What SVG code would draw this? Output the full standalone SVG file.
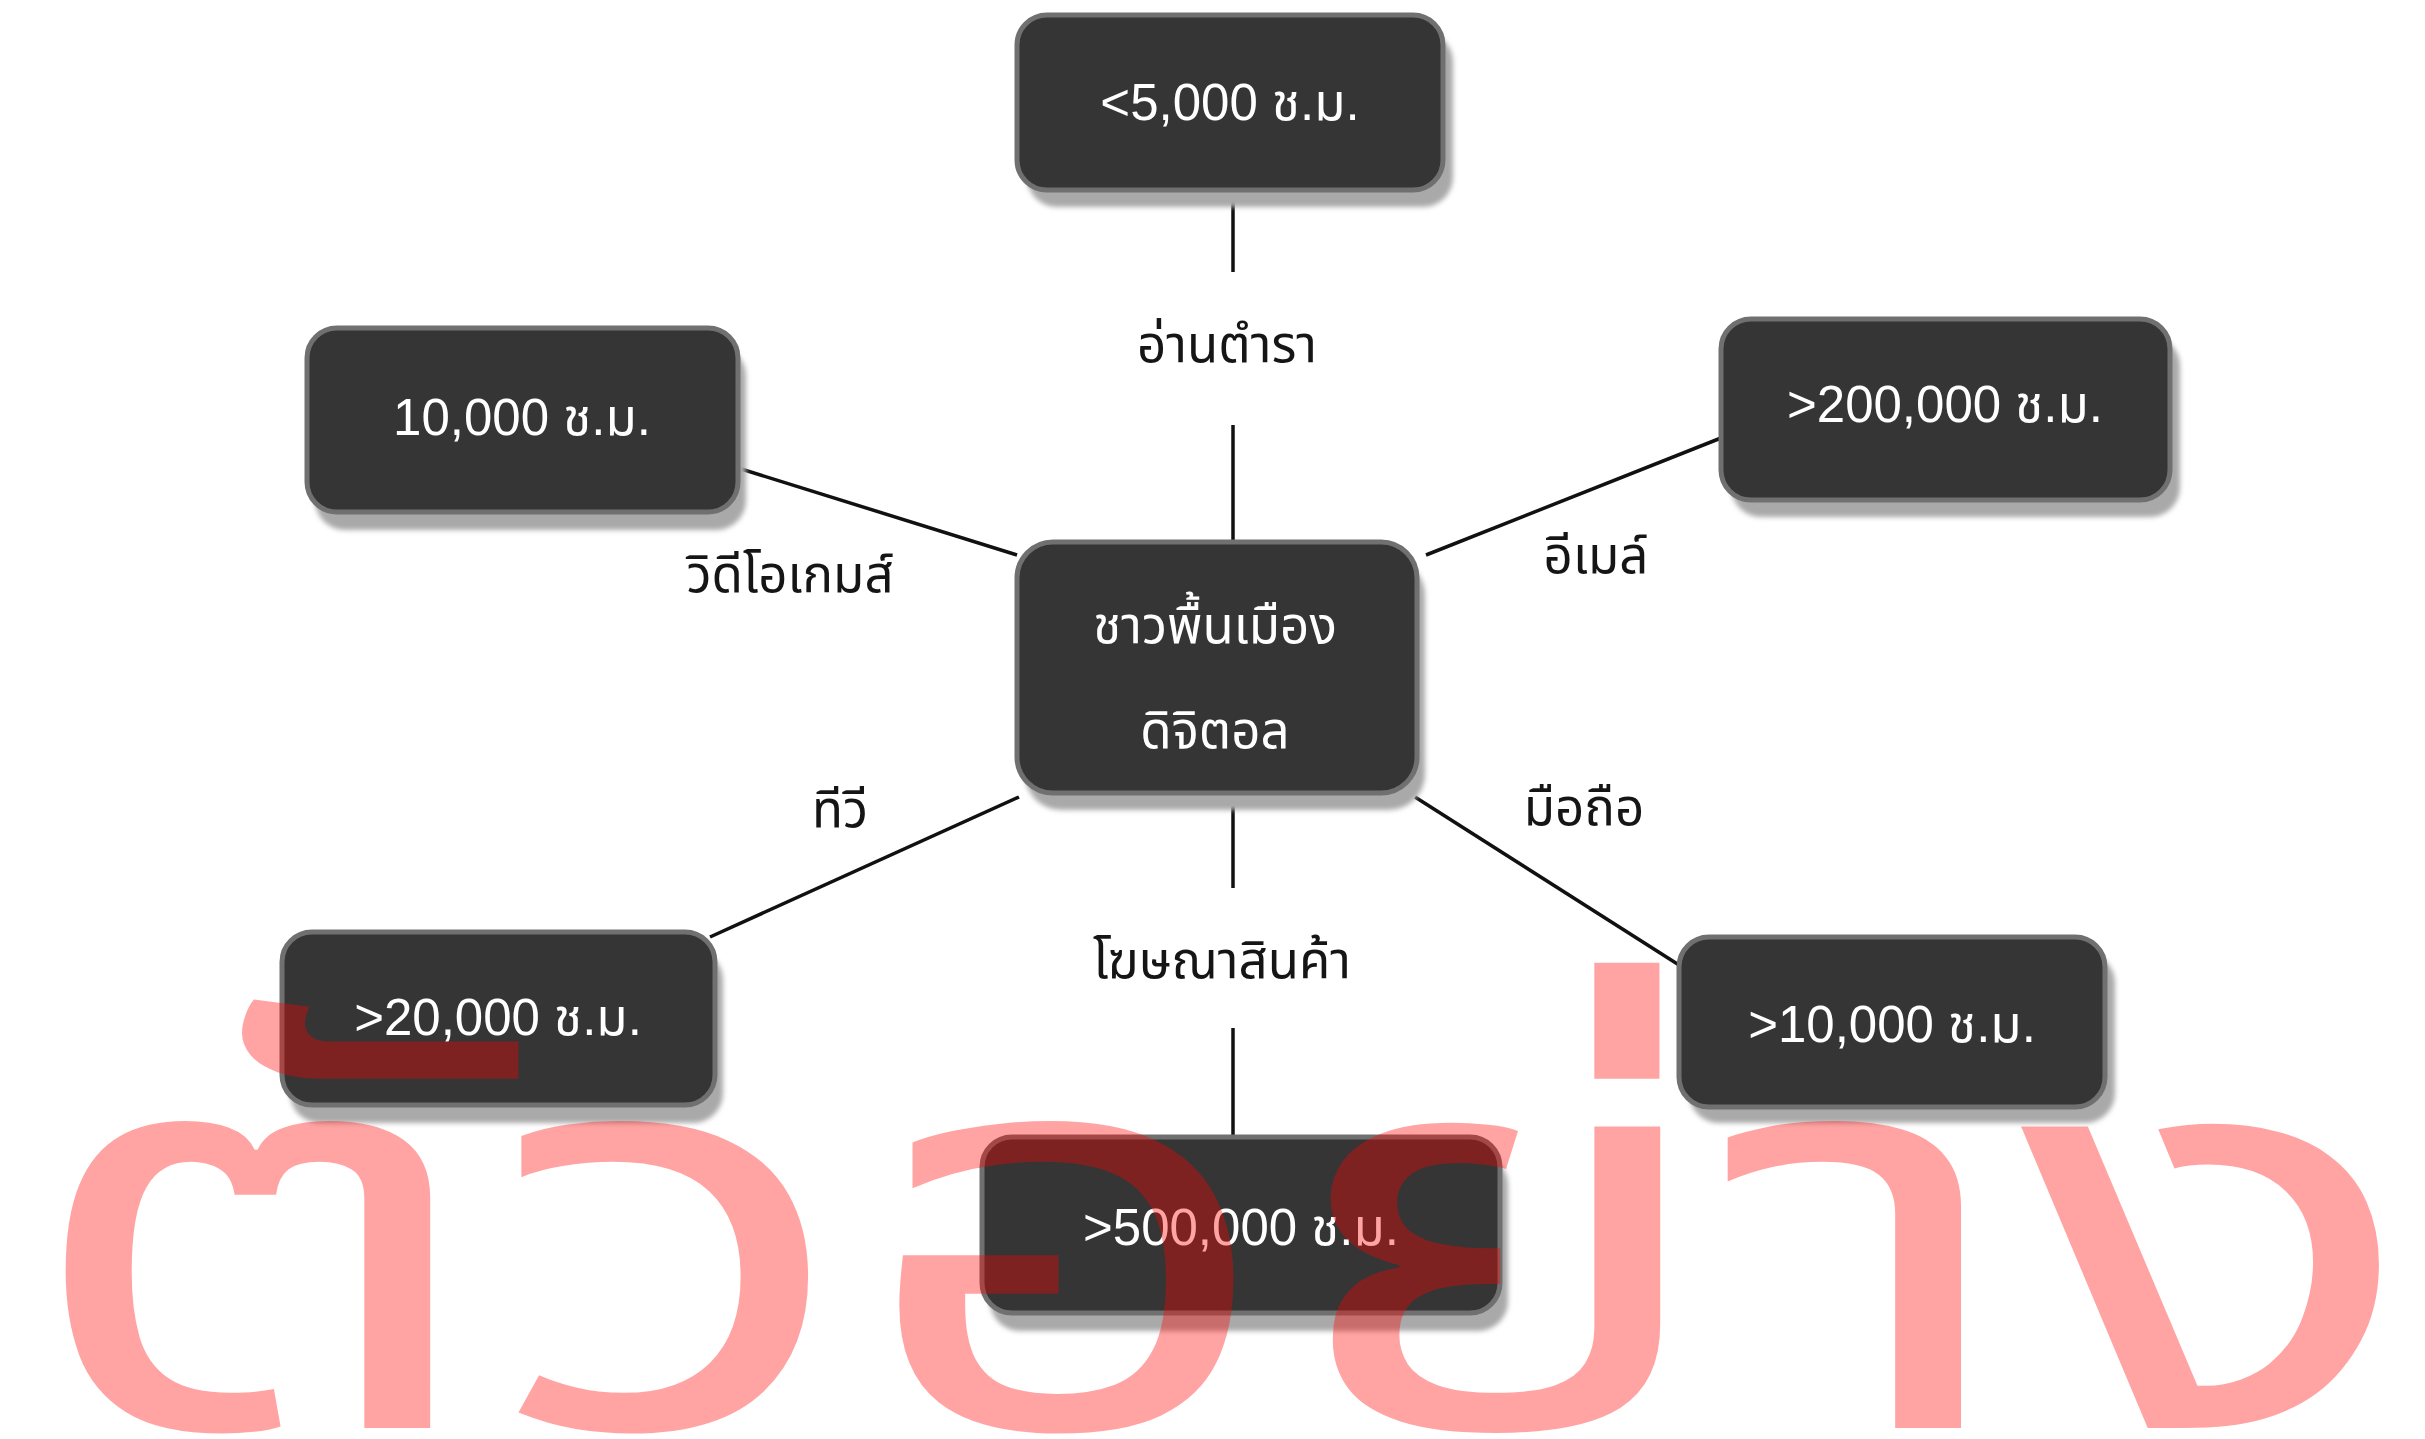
<svg xmlns="http://www.w3.org/2000/svg" width="2425" height="1439" viewBox="0 0 2425 1439">
<defs>
<filter id="sh" x="-10%" y="-10%" width="130%" height="140%">
<feGaussianBlur stdDeviation="2.5"/>
</filter>
</defs>
<style>
.shadow{fill:#a9a9a9;filter:url(#sh)}
.box{fill:#353535;stroke:#707070;stroke-width:5}
.nt{font-family:"Liberation Sans","Noto Sans Thai","Noto Sans",sans-serif;font-size:51px;fill:#ffffff;text-anchor:middle}
.lbl{font-family:"Liberation Sans","Noto Sans Thai","Noto Sans",sans-serif;font-size:51px;fill:#151515;text-anchor:middle}
.conn line{stroke:#111;stroke-width:3.5;stroke-linecap:butt}
.wm{font-family:"Noto Sans Thai","Noto Sans",sans-serif;font-size:550px;fill:#ff0000;fill-opacity:0.36}
</style>
<rect width="2425" height="1439" fill="#ffffff"/>
<g id="connectors" class="conn">
<line x1="1233" y1="190" x2="1233" y2="272"/>
<line x1="1233" y1="425" x2="1233" y2="545"/>
<line x1="738" y1="468" x2="1017" y2="555"/>
<line x1="1721" y1="438" x2="1426" y2="555"/>
<line x1="710" y1="937" x2="1019" y2="797"/>
<line x1="1415" y1="797" x2="1679" y2="965"/>
<line x1="1233" y1="806" x2="1233" y2="888"/>
<line x1="1233" y1="1028" x2="1233" y2="1140"/>
</g>
<g id="labels">
<text class="lbl" x="1227" y="362">อ่านตำรา</text>
<text class="lbl" x="790" y="592">วิดีโอเกมส์</text>
<text class="lbl" x="1596" y="573">อีเมล์</text>
<text class="lbl" x="840" y="827">ทีวี</text>
<text class="lbl" x="1584" y="825">มือถือ</text>
<text class="lbl" x="1222" y="978">โฆษณาสินค้า</text>
</g>
<g id="node-top">
<rect class="shadow" x="1027" y="32" width="426" height="175" rx="30"/>
<rect class="box" x="1017" y="15" width="426" height="175" rx="30"/>
<text class="nt" x="1230" y="120">&lt;5,000 ช.ม.</text>
</g>
<g id="node-video">
<rect class="shadow" x="315" y="346" width="431" height="184" rx="30"/>
<rect class="box" x="307" y="328" width="431" height="184" rx="30"/>
<text class="nt" x="522" y="435">10,000 ช.ม.</text>
</g>
<g id="node-email">
<rect class="shadow" x="1731" y="336" width="449" height="181" rx="30"/>
<rect class="box" x="1721" y="319" width="449" height="181" rx="30"/>
<text class="nt" x="1945" y="422">&gt;200,000 ช.ม.</text>
</g>
<g id="node-center">
<rect class="shadow" x="1025" y="559" width="400" height="251" rx="36"/>
<rect class="box" x="1017" y="542" width="400" height="251" rx="36"/>
<text class="nt" x="1215" y="643">ชาวพื้นเมือง</text>
<text class="nt" x="1215" y="748">ดิจิตอล</text>
</g>
<g id="node-tv">
<rect class="shadow" x="290" y="950" width="433" height="173" rx="30"/>
<rect class="box" x="282" y="932" width="433" height="173" rx="30"/>
<text class="nt" x="498" y="1035">&gt;20,000 ช.ม.</text>
</g>
<g id="node-mobile">
<rect class="shadow" x="1689" y="953" width="426" height="170" rx="30"/>
<rect class="box" x="1679" y="937" width="426" height="170" rx="30"/>
<text class="nt" x="1892" y="1042">&gt;10,000 ช.ม.</text>
</g>
<g id="node-ads">
<rect class="shadow" x="990" y="1155" width="518" height="176" rx="30"/>
<rect class="box" x="982" y="1137" width="518" height="176" rx="30"/>
<text class="nt" x="1241" y="1245">&gt;500,000 ช.ม.</text>
</g>
<g id="watermark">
<text class="wm" x="19" y="1428" textLength="2400" lengthAdjust="spacingAndGlyphs">ตัวอย่าง</text>
</g>
</svg>
